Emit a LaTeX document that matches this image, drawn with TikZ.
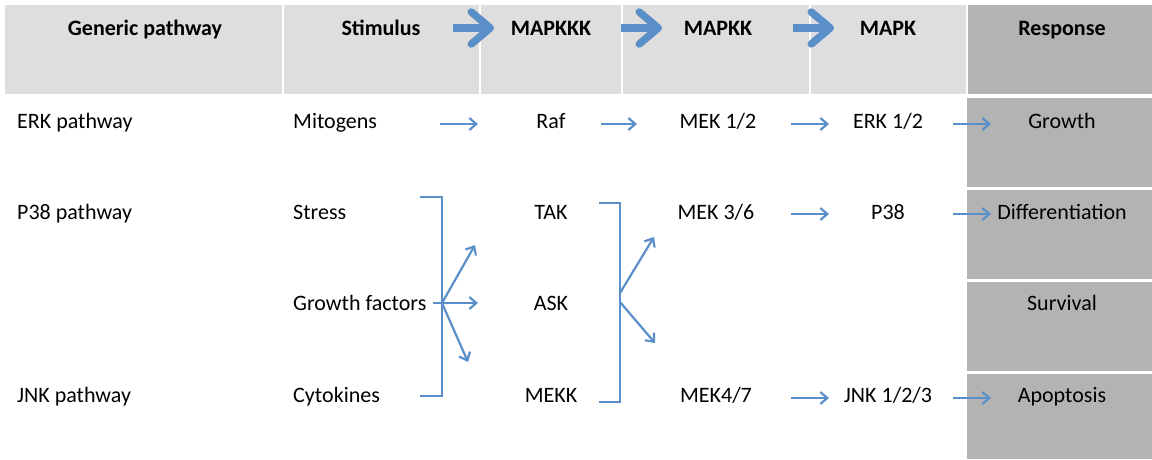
\documentclass[tikz,border=0pt]{standalone}
\usepackage{fontspec}
\setmainfont{Carlito}
\usetikzlibrary{positioning,arrows.meta,calc}
\definecolor{cHead}{RGB}{222,222,222}
\definecolor{cResp}{RGB}{179,179,179}
\definecolor{cArr}{RGB}{91,143,201}

\begin{document}
\begin{tikzpicture}[x=1pt,y=-1pt,font=\fontsize{22}{26}\selectfont,
   txt/.style={inner sep=0pt,anchor=mid},
   lft/.style={inner sep=0pt,anchor=mid west},
   hdr/.style={inner sep=0pt,anchor=mid,font=\fontsize{22}{26}\selectfont\bfseries},
   big/.style={draw=cArr,line width=7.5pt,-{Straight Barb[length=19pt,width=32pt,round]}},
   arr/.style={draw=cArr,line width=2.2pt,-{Straight Barb[length=7pt,width=12pt]}},
   brk/.style={draw=cArr,line width=2.5pt}]
  \useasboundingbox (0,0) rectangle (1152,459);
  % header band and response column
  \fill[cHead] (5,5) rectangle (1152,94);
  \fill[cResp] (967,5) rectangle (1152,94);
  \foreach \x in {283,480,622,810,967}
    \draw[white,line width=1.5pt] (\x,5) -- (\x,94);
  \foreach \a/\b in {98/187,190/279,282/371,374/459}
    \fill[cResp] (967,\a) rectangle (1152,\b);

  \node[hdr] (gen) at (145,33) {Generic pathway};
  \node[hdr] (stim) at (381,33) {Stimulus};
  \node[hdr] (kkk) at (551,33) {MAPKKK};
  \node[hdr] (kk) at (718,33) {MAPKK};
  \node[hdr] (k) at (888,33) {MAPK};
  \node[hdr] (resp) at (1062,33) {Response};
  \draw[big] (453,28) -- (494,28);
  \draw[big] (621,28) -- (662,28);
  \draw[big] (793,28) -- (834,28);

  % rows
  \node[lft] (erk) at (17,126) {ERK pathway};
  \node[lft] (p38p) at (17,217) {P38 pathway};
  \node[lft] (jnkp) at (17,400) {JNK pathway};

  \node[lft] (mito) at (293,126) {Mitogens};
  \node[lft] (stress) at (293,217) {Stress};
  \node[lft] (gf) at (293,308) {Growth factors};
  \node[lft] (cyto) at (293,400) {Cytokines};

  \node[txt] (raf) at (551,126) {Raf};
  \node[txt] (tak) at (551,217) {TAK};
  \node[txt] (ask) at (551,308) {ASK};
  \node[txt] (mekk) at (551,400) {MEKK};

  \node[txt] (mek12) at (718,126) {MEK 1/2};
  \node[txt] (mek36) at (716,217) {MEK 3/6};
  \node[txt] (mek47) at (716,400) {MEK4/7};

  \node[txt] (erk12) at (888,126) {ERK 1/2};
  \node[txt] (p38) at (888,217) {P38};
  \node[txt] (jnk) at (888,400) {JNK 1/2/3};

  \node[txt] (growth) at (1062,126) {Growth};
  \node[txt] (diff) at (1062,217) {Differentiation};
  \node[txt] (surv) at (1062,308) {Survival};
  \node[txt] (apop) at (1062,400) {Apoptosis};

  % short arrows
  \coordinate (m1) at (440,124); \coordinate (m2) at (478,124);
  \coordinate (r1) at (601,124); \coordinate (r2) at (637,124);
  \draw[arr] (m1) -- (m2);
  \draw[arr] (r1) -- (r2);
  \foreach \n/\y in {a/124,b/214,c/398}{
    \coordinate (s\n) at (791,\y); \coordinate (e\n) at (829,\y);
    \coordinate (t\n) at (953,\y); \coordinate (u\n) at (991,\y);
    \draw[arr] (s\n) -- (e\n);
    \draw[arr] (t\n) -- (u\n);
  }

  % brackets
  \coordinate (g0) at (442,303);
  \draw[brk] (420,197) -| (442,396) -- (420,396);
  \draw[brk] (433,303) -- (g0);
  \coordinate (g1) at (475,245); \coordinate (g2) at (478,303); \coordinate (g3) at (468,362);
  \draw[arr] (g0) -- (g1);
  \draw[arr] (g0) -- (g2);
  \draw[arr] (g0) -- (g3);

  \draw[brk] (599,203) -| (620,402) -- (599,402);
  \coordinate (h0) at (620,293); \coordinate (h1) at (620,302);
  \coordinate (h2) at (654,237); \coordinate (h3) at (655,343);
  \draw[arr] (h0) -- (h2);
  \draw[arr] (h1) -- (h3);
\end{tikzpicture}
\end{document}
